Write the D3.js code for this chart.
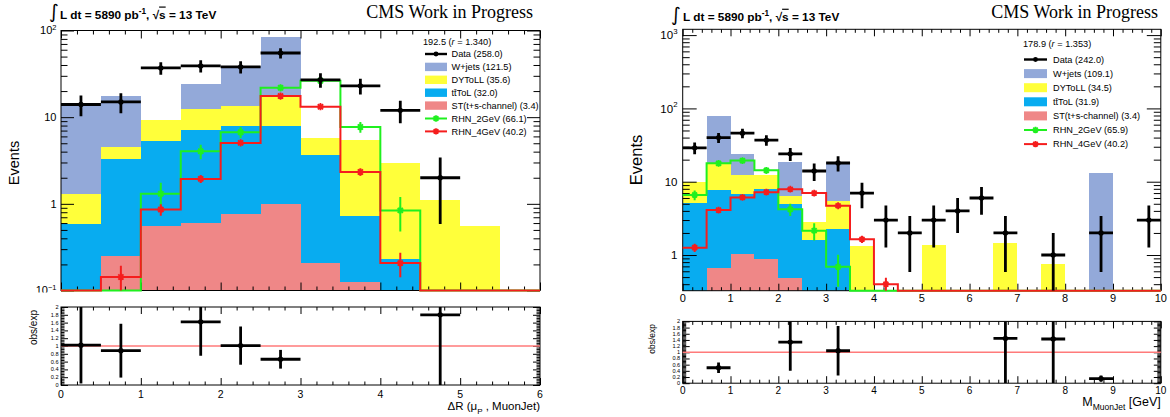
<!DOCTYPE html>
<html><head><meta charset="utf-8">
<script src="https://cdn.jsdelivr.net/npm/d3@7"></script>
<style>
body{margin:0;background:#fff;}
svg{display:block;font-family:"Liberation Sans",Arial,Helvetica,sans-serif;}
</style>
</head><body>
<svg id="c" width="1170" height="417"></svg>
<script>
// ===================== DATA =====================
const binWidth = 0.5;
const lumiText = "5890";
const energyText = "13";
const cmsText = "CMS Work in Progress";

// ---- Left: ΔR(μP, MuonJet), 12 bins of 0.5 from 0 to 6
const drData   = [14, 15, 37, 39, 38, 55, 27, 23, 12, 2, 0, 0];
const drWjets  = [13.1, 13.0, 0, 11.8, 25.5, 66.5, 0, 0, 0, 0, 0, 0];
const drDY     = [0.72, 1.21, 3.88, 5.22, 5.53, 9.0, 2.16, 4.68, 2.73, 1.12, 0.56, 0];
const drTT     = [0.59, 3.08, 4.77, 6.48, 7.11, 6.88, 3.43, 0.60, 0.23, 0, 0, 0];
const drST     = [0, 0.25, 0.55, 0.60, 0.76, 0.99, 0.21, 0.125, 0, 0, 0, 0];
const drRHN2   = [0, 0, 1.31, 4.04, 6.7, 21.8, 26.3, 7.7, 0.84, 0, 0, 0];
const drRHN2Err= [0, 0, 0.44, 0.78, 1.0, 1.8, 2.0, 1.07, 0.36, 0, 0, 0];
const drRHN4   = [0, 0.143, 0.86, 1.94, 5.05, 17.5, 13.2, 2.33, 0.207, 0, 0, 0];
const drRHN4Err= [0, 0.05, 0.13, 0.2, 0.32, 0.6, 0.52, 0.22, 0.065, 0, 0, 0];
const drRatio    = [1.02, 0.88, null, 1.62, 1.01, 0.66, null, null, null, 1.8, null, null];
const drRatioErr = [0.98, 0.69, null, 0.87, 0.49, 0.24, null, null, null, 1.8, null, null];
const drLegendHeader = ["192.5", "1.340"];
const drLegendLabels = ["Data (258.0)", "W+jets (121.5)", "DYToLL (35.6)", "t\u0074\u0304ToL (32.0)", "ST(t+s-channel) (3.4)", "RHN_2GeV (66.1)", "RHN_4GeV (40.2)"];
const drYTicks = [0.1, 1, 10, 100];
const drXTicks = [0, 1, 2, 3, 4, 5, 6];

// ---- Right: M_MuonJet [GeV], 20 bins of 0.5 from 0 to 10
const mjData   = [29, 40, 46, 37, 24, 14, 18, 7, 3, 2, 3, 4, 6, 2, 0, 1, 0, 2, 0, 3];
const mjWjets  = [0, 61.7, 11.5, 0, 12.3, 0, 12.9, 0, 0, 0, 0, 0, 0, 0, 0, 0, 0, 13.0, 0, 0];
const mjDY     = [4.93, 10.1, 5.4, 4.3, 1.5, 1.25, 3.24, 1.33, 0, 0, 1.37, 0, 0, 1.44, 0, 0.75, 0, 0, 0, 0];
const mjTT     = [5.07, 7.04, 5.78, 7.03, 4.41, 1.6, 2.26, 0, 0, 0, 0, 0, 0, 0, 0, 0, 0, 0, 0, 0];
const mjST     = [0, 0.66, 1.02, 0.87, 0.49, 0, 0, 0, 0, 0, 0, 0, 0, 0, 0, 0, 0, 0, 0, 0];
const mjRHN2   = [6.6, 17.8, 19.4, 14.3, 4.2, 2.15, 0.69, 0, 0, 0, 0, 0, 0, 0, 0, 0, 0, 0, 0, 0];
const mjRHN2Err= [1.0, 1.6, 1.7, 1.45, 0.8, 0.57, 0.32, 0, 0, 0, 0, 0, 0, 0, 0, 0, 0, 0, 0, 0];
const mjRHN4   = [1.26, 4.1, 6.1, 7.2, 7.9, 7.0, 4.7, 1.64, 0.40, 0, 0, 0, 0, 0, 0, 0, 0, 0, 0, 0];
const mjRHN4Err= [0.16, 0.29, 0.35, 0.38, 0.4, 0.37, 0.31, 0.18, 0.09, 0, 0, 0, 0, 0, 0, 0, 0, 0, 0, 0];
const mjRatio    = [null, 0.5, null, null, 1.33, null, 1.05, null, null, null, null, null, null, 1.45, null, 1.43, null, 0.15, null, null];
const mjRatioErr = [null, 0.17, null, null, 0.93, null, 0.8, null, null, null, null, null, null, 1.45, null, 1.43, null, 0.1, null, null];
const mjLegendHeader = ["178.9", "1.353"];
const mjLegendLabels = ["Data (242.0)", "W+jets (109.1)", "DYToLL (34.5)", "t\u0074\u0304ToL (31.9)", "ST(t+s-channel) (3.4)", "RHN_2GeV (65.9)", "RHN_4GeV (40.2)"];
const mjYTicks = [1, 10, 100, 1000];
const mjXTicks = [0, 1, 2, 3, 4, 5, 6, 7, 8, 9, 10];

const ratioYLabels = [0, 0.2, 0.4, 0.6, 0.8, 1, 1.2, 1.4, 1.6, 1.8, 2];

// ===================== STYLE =====================
const C = {w:"#93a9d9", dy:"#ffff3a", tt:"#08acf0", st:"#ef8787", g:"#1ff01f", r:"#f51d1d", ratio:"#ff7a7a"};
const SERIF = "'Liberation Serif','Times New Roman',serif";
const svg = d3.select("#c");

function star(g, cx, cy, color, s) {
  const d = s*0.72;
  g.append("path")
    .attr("d", `M${cx-s},${cy}H${cx+s}M${cx},${cy-s}V${cy+s}M${cx-d},${cy-d}L${cx+d},${cy+d}M${cx-d},${cy+d}L${cx+d},${cy-d}`)
    .attr("stroke", color).attr("stroke-width", 1.8).attr("fill", "none");
}

function tickAxis(g, gen, vals, size, tx, ty) {
  g.append("g").attr("transform", `translate(${tx},${ty})`)
    .call(gen.tickValues(vals).tickSize(size).tickSizeOuter(0).tickFormat(""))
    .call(s => s.select(".domain").remove())
    .call(s => s.selectAll("line").attr("stroke", "#000").attr("stroke-width", 1));
}

function supLabel(g, x, y, fs, exp) {
  const t = g.append("text").attr("x", x).attr("y", y).attr("text-anchor", "end").attr("font-size", fs);
  t.append("tspan").text("10");
  if (exp !== null) t.append("tspan").attr("dy", -fs*0.45).attr("font-size", fs*0.68).text(exp);
}

function drawPanel(p) {
  const g = svg.append("g");
  const n = p.data.length;
  const x = d3.scaleLinear().domain(p.xDomain).range([p.x0, p.x1]);
  const y = d3.scaleLog().domain(p.yDomain).range([p.yBot, p.yTop]);
  const edges = d3.range(n + 1).map(i => p.xDomain[0] + i * binWidth);
  const ymin = p.yDomain[0];
  const Y = v => v > 0 ? y(v) : p.yBot + 20;

  const cid = p.id + "clip";
  const defs = svg.append("defs");
  defs.append("clipPath").attr("id", cid).append("rect")
    .attr("x", p.x0).attr("y", p.yTop).attr("width", p.x1 - p.x0).attr("height", p.yBot - p.yTop);
  defs.append("clipPath").attr("id", cid + "L").append("rect")
    .attr("x", p.x0 - 2).attr("y", p.yTop).attr("width", p.x1 - p.x0 + 4).attr("height", p.yBot - p.yTop + 1.5);

  // stacked backgrounds (bottom to top)
  const stackG = g.append("g").attr("clip-path", `url(#${cid})`).attr("shape-rendering", "crispEdges");
  const layers = [{v: p.st, c: C.st}, {v: p.tt, c: C.tt}, {v: p.dy, c: C.dy}, {v: p.w, c: C.w}];
  for (let i = 0; i < n; i++) {
    let cum = 0;
    for (const L of layers) {
      const v = L.v[i];
      if (v > 0) {
        const y1 = Y(cum + v), y0 = Y(cum);
        stackG.append("rect").attr("x", x(edges[i])).attr("width", x(edges[i+1]) - x(edges[i]))
          .attr("y", y1).attr("height", Math.max(0, y0 - y1)).attr("fill", L.c);
      }
      cum += v;
    }
  }

  // frame
  g.append("rect").attr("x", p.x0).attr("y", p.yTop).attr("width", p.x1 - p.x0).attr("height", p.yBot - p.yTop)
    .attr("fill", "none").attr("stroke", "#000").attr("stroke-width", 1);

  // x ticks
  const xMajor = p.xTicks;
  const xMinor = d3.range(p.xDomain[0], p.xDomain[1] + 1e-9, 0.2).filter(v => Math.abs(v - Math.round(v)) > 1e-6);
  tickAxis(g, d3.axisBottom(x), xMajor, -p.xMaj, 0, p.yBot);
  tickAxis(g, d3.axisBottom(x), xMinor, -p.xMaj/2, 0, p.yBot);
  tickAxis(g, d3.axisTop(x), xMajor, -p.xMaj, 0, p.yTop);
  tickAxis(g, d3.axisTop(x), xMinor, -p.xMaj/2, 0, p.yTop);
  // y ticks (log)
  const lo = Math.floor(Math.log10(ymin)), hi = Math.ceil(Math.log10(p.yDomain[1]));
  const yMinor = [];
  for (let e = lo; e <= hi; e++) for (let k = 2; k <= 9; k++) {
    const v = k * Math.pow(10, e);
    if (v > ymin && v < p.yDomain[1]) yMinor.push(v);
  }
  tickAxis(g, d3.axisLeft(y), p.yTicks, -p.yMaj, p.x0, 0);
  tickAxis(g, d3.axisLeft(y), yMinor, -p.yMaj/2, p.x0, 0);
  tickAxis(g, d3.axisRight(y), p.yTicks, -p.yMaj, p.x1, 0);
  tickAxis(g, d3.axisRight(y), yMinor, -p.yMaj/2, p.x1, 0);

  // y tick labels
  p.yTicks.forEach(v => {
    const e = Math.round(Math.log10(v));
    const yy = y(v) + p.yFs * 0.36;
    if (e === 0) g.append("text").attr("x", p.yLabX).attr("y", yy).attr("text-anchor", "end").attr("font-size", p.yFs).text("1");
    else if (e === 1) supLabel(g, p.yLabX, yy, p.yFs, null);
    else supLabel(g, p.yLabX, yy, p.yFs, String(e).replace("-", "\u2212"));
  });
  // x tick labels (only if visible)
  if (p.showX) p.xTicks.forEach(v => {
    g.append("text").attr("x", x(v)).attr("y", p.xLabY).attr("text-anchor", "middle").attr("font-size", p.xFs).text(v);
  });

  // y title
  g.append("text").attr("transform", `translate(${p.yTitleX},${p.yTitleY}) rotate(-90)`)
    .attr("text-anchor", "middle").attr("font-size", p.yTitleFs).text("Events");

  // signal histograms
  const lineG = g.append("g").attr("clip-path", `url(#${cid}L)`);
  const Ys = v => v > ymin ? y(v) : p.yBot;
  [[p.rhn2, p.rhn2Err, C.g], [p.rhn4, p.rhn4Err, C.r]].forEach(([vals, errs, col]) => {
    const pts = [];
    vals.forEach((v, i) => { pts.push([x(edges[i]), Ys(v)]); pts.push([x(edges[i+1]), Ys(v)]); });
    lineG.append("path").attr("d", d3.line()(pts)).attr("fill", "none").attr("stroke", col).attr("stroke-width", 2);
    vals.forEach((v, i) => {
      if (v > 0) {
        const cx = x(edges[i] + binWidth/2);
        lineG.append("line").attr("x1", cx).attr("x2", cx).attr("y1", Ys(v - errs[i])).attr("y2", Ys(v + errs[i]))
          .attr("stroke", col).attr("stroke-width", 2);
        star(lineG, cx, y(v), col, p.starS);
      }
    });
  });

  // data
  const dataG = g.append("g").attr("clip-path", `url(#${cid})`);
  p.data.forEach((d, i) => {
    if (d <= 0) return;
    const cx = x(edges[i] + binWidth/2);
    const e = Math.sqrt(d);
    dataG.append("line").attr("x1", x(edges[i])).attr("x2", x(edges[i+1])).attr("y1", y(d)).attr("y2", y(d))
      .attr("stroke", "#000").attr("stroke-width", p.dataW);
    dataG.append("line").attr("x1", cx).attr("x2", cx).attr("y1", Ys(d - e)).attr("y2", y(d + e))
      .attr("stroke", "#000").attr("stroke-width", p.dataW);
    dataG.append("circle").attr("cx", cx).attr("cy", y(d)).attr("r", p.dataW*0.95).attr("fill", "#000");
  });

  // header
  g.append("text").attr("x", p.intX).attr("y", p.intY).style("font-family", "'DejaVu Sans',sans-serif")
    .attr("font-size", p.intFs).text("\u222B");
  const t = g.append("text").attr("x", p.hdrX).attr("y", p.hdrY).attr("font-weight", "bold").attr("font-size", 11.8);
  t.append("tspan").text("L dt = " + lumiText + " pb");
  t.append("tspan").attr("dy", -4.8).attr("font-size", 8.2).text("-1");
  t.append("tspan").attr("dy", 4.8).text(", \u221A");
  t.append("tspan").style("text-decoration", "overline").text("s");
  t.append("tspan").text(" = " + energyText + " TeV");
  g.append("text").attr("x", p.cmsX).attr("y", p.cmsY).attr("text-anchor", "end")
    .style("font-family", SERIF).attr("font-size", 18).text(cmsText);

  // legend
  const lg = g.append("g");
  const lh = lg.append("text").attr("x", p.legHX).attr("y", p.legHY + 3.3).attr("font-size", 9.2);
  lh.append("tspan").text(p.legHeader[0] + " (");
  lh.append("tspan").attr("font-style", "italic").text("r");
  lh.append("tspan").text(" = " + p.legHeader[1] + ")");
  const types = ["data", C.w, C.dy, C.tt, C.st, "g", "r"];
  p.legLabels.forEach((lab, k) => {
    const cy = p.legY0 + k * p.legDY;
    const typ = types[k];
    if (typ === "data") {
      lg.append("line").attr("x1", p.legSX0).attr("x2", p.legSX1).attr("y1", cy).attr("y2", cy).attr("stroke", "#000").attr("stroke-width", 2.4);
      lg.append("circle").attr("cx", (p.legSX0 + p.legSX1)/2).attr("cy", cy).attr("r", 2.4).attr("fill", "#000");
    } else if (typ === "g" || typ === "r") {
      const col = typ === "g" ? C.g : C.r;
      lg.append("line").attr("x1", p.legSX0).attr("x2", p.legSX1).attr("y1", cy).attr("y2", cy).attr("stroke", col).attr("stroke-width", 2);
      star(lg, (p.legSX0 + p.legSX1)/2, cy, col, 3.2);
    } else {
      lg.append("rect").attr("x", p.legSX0).attr("y", cy - p.legBH/2).attr("width", p.legSX1 - p.legSX0).attr("height", p.legBH).attr("fill", typ);
    }
    lg.append("text").attr("x", p.legTX).attr("y", cy + 3.3).attr("font-size", 9.2).text(lab);
  });
  return x;
}

function drawRatio(p) {
  const g = svg.append("g");
  const n = p.ratio.length;
  const x = d3.scaleLinear().domain(p.xDomain).range([p.x0, p.x1]);
  const y = d3.scaleLinear().domain([0, 2]).range([p.rBot, p.rTop]);
  const edges = d3.range(n + 1).map(i => p.xDomain[0] + i * binWidth);
  const cid = p.id + "rclip";
  svg.append("defs").append("clipPath").attr("id", cid).append("rect")
    .attr("x", p.x0).attr("y", p.rTop).attr("width", p.x1 - p.x0).attr("height", p.rBot - p.rTop);

  // frame + ticks
  g.append("rect").attr("x", p.x0).attr("y", p.rTop).attr("width", p.x1 - p.x0).attr("height", p.rBot - p.rTop)
    .attr("fill", "none").attr("stroke", "#000").attr("stroke-width", 1);
  const xMinor = d3.range(p.xDomain[0], p.xDomain[1] + 1e-9, 0.2).filter(v => Math.abs(v - Math.round(v)) > 1e-6);
  tickAxis(g, d3.axisBottom(x), p.xTicks, -7, 0, p.rBot);
  tickAxis(g, d3.axisBottom(x), xMinor, -3.5, 0, p.rBot);
  tickAxis(g, d3.axisTop(x), p.xTicks, -7, 0, p.rTop);
  tickAxis(g, d3.axisTop(x), xMinor, -3.5, 0, p.rTop);
  const yMinor = d3.range(0, 2.0001, 0.04).filter(v => Math.abs(v*5 - Math.round(v*5)) > 1e-6);
  tickAxis(g, d3.axisLeft(y), ratioYLabels, -p.rTick, p.x0, 0);
  tickAxis(g, d3.axisLeft(y), yMinor, -p.rTick/2, p.x0, 0);
  tickAxis(g, d3.axisRight(y), ratioYLabels, -p.rTick, p.x1, 0);
  tickAxis(g, d3.axisRight(y), yMinor, -p.rTick/2, p.x1, 0);

  ratioYLabels.forEach(v => {
    g.append("text").attr("x", p.x0 - 2.5).attr("y", y(v) + 2).attr("text-anchor", "end").attr("font-size", 5.6).text(v);
  });
  p.xTicks.forEach(v => {
    g.append("text").attr("x", x(v)).attr("y", p.rxLabY).attr("text-anchor", "middle").attr("font-size", p.rxFs).text(v);
  });
  g.append("text").attr("transform", `translate(${p.ryTitleX},${p.ryTitleY}) rotate(-90)`)
    .attr("text-anchor", "end").attr("font-size", p.ryTitleFs).text("obs/exp");

  // reference line
  g.append("line").attr("x1", p.x0).attr("x2", p.x1).attr("y1", y(1)).attr("y2", y(1))
    .attr("stroke", C.ratio).attr("stroke-width", 1.6);

  const pg = g.append("g").attr("clip-path", `url(#${cid})`);
  p.ratio.forEach((r, i) => {
    if (r === null) return;
    const cx = x(edges[i] + binWidth/2);
    const e = p.ratioErr[i];
    pg.append("line").attr("x1", x(edges[i])).attr("x2", x(edges[i+1])).attr("y1", y(r)).attr("y2", y(r))
      .attr("stroke", "#000").attr("stroke-width", p.dataW);
    pg.append("line").attr("x1", cx).attr("x2", cx).attr("y1", y(Math.max(0, r - e))).attr("y2", y(r + e))
      .attr("stroke", "#000").attr("stroke-width", p.dataW);
    pg.append("circle").attr("cx", cx).attr("cy", y(r)).attr("r", p.dataW*0.95).attr("fill", "#000");
  });

  // x title
  const t = g.append("text").attr("x", p.x1).attr("y", p.xTitleY).attr("text-anchor", "end").attr("font-size", p.xTitleFs);
  p.xTitle(t);
}

// ===================== LEFT =====================
const L = {
  id: "dr", x0: 61, x1: 540, yTop: 30.5, yBot: 290.5, xDomain: [0, 6], yDomain: [0.1, 100],
  data: drData, w: drWjets, dy: drDY, tt: drTT, st: drST,
  rhn2: drRHN2, rhn2Err: drRHN2Err, rhn4: drRHN4, rhn4Err: drRHN4Err,
  yTicks: drYTicks, xTicks: drXTicks, xMaj: 8, yMaj: 13, yLabX: 56.5, yFs: 11, showX: false,
  yTitleX: 19, yTitleY: 163, yTitleFs: 14.5, starS: 3.6, dataW: 2.8,
  intX: 49, intY: 18, intFs: 19, hdrX: 60, hdrY: 18.5, cmsX: 533, cmsY: 17.8,
  legHeader: drLegendHeader, legLabels: drLegendLabels, legHX: 423, legHY: 42,
  legY0: 54, legDY: 12.9, legSX0: 425, legSX1: 447, legTX: 451.5, legBH: 8.4
};
drawPanel(L);
// ratio pad background covers the bottom of the main pad
svg.append("rect").attr("x", 0).attr("y", 292.5).attr("width", 585).attr("height", 125).attr("fill", "#fff");
drawRatio({
  id: "dr", x0: 61, x1: 540, rTop: 307, rBot: 385, xDomain: [0, 6], xTicks: drXTicks,
  ratio: drRatio, ratioErr: drRatioErr, rTick: 7, dataW: 2.8,
  rxLabY: 397.5, rxFs: 10.5, ryTitleX: 37, ryTitleY: 310, ryTitleFs: 10,
  xTitleY: 410, xTitleFs: 11.5,
  xTitle: t => {
    t.append("tspan").text("\u0394R  (\u03BC");
    t.append("tspan").attr("dy", 4).attr("font-size", 8).text("P");
    t.append("tspan").attr("dy", -4).text(" , MuonJet)");
  }
});

// ===================== RIGHT =====================
const R = {
  id: "mj", x0: 682.7, x1: 1160.8, yTop: 29.3, yBot: 290.7, xDomain: [0, 10], yDomain: [0.326, 1200],
  data: mjData, w: mjWjets, dy: mjDY, tt: mjTT, st: mjST,
  rhn2: mjRHN2, rhn2Err: mjRHN2Err, rhn4: mjRHN4, rhn4Err: mjRHN4Err,
  yTicks: mjYTicks, xTicks: mjXTicks, xMaj: 7, yMaj: 14, yLabX: 677.5, yFs: 11.5, showX: true,
  xLabY: 301.5, xFs: 11,
  yTitleX: 642, yTitleY: 160, yTitleFs: 16.5, starS: 3.4, dataW: 2.8,
  intX: 671, intY: 21, intFs: 19, hdrX: 683, hdrY: 20.7, cmsX: 1158, cmsY: 17.8,
  legHeader: mjLegendHeader, legLabels: mjLegendLabels, legHX: 1023, legHY: 44,
  legY0: 59.5, legDY: 14.1, legSX0: 1024, legSX1: 1047, legTX: 1053, legBH: 9
};
drawPanel(R);
drawRatio({
  id: "mj", x0: 682.7, x1: 1160.8, rTop: 321.4, rBot: 383.2, xDomain: [0, 10], xTicks: mjXTicks,
  ratio: mjRatio, ratioErr: mjRatioErr, rTick: 7, dataW: 2.8,
  rxLabY: 394, rxFs: 10, ryTitleX: 655, ryTitleY: 324, ryTitleFs: 8.5,
  xTitleY: 406, xTitleFs: 12.5,
  xTitle: t => {
    t.append("tspan").text("M");
    t.append("tspan").attr("dy", 3.5).attr("font-size", 8.5).text("MuonJet");
    t.append("tspan").attr("dy", -3.5).text("  [GeV]");
  }
});
</script>
</body></html>
